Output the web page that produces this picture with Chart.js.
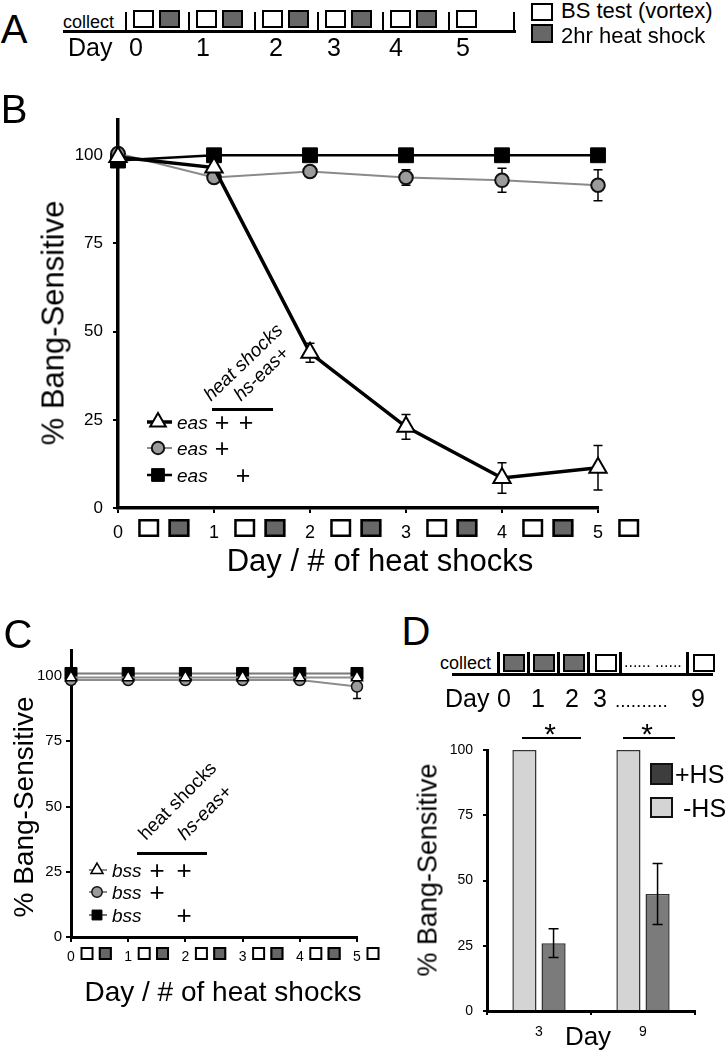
<!DOCTYPE html>
<html><head><meta charset="utf-8">
<script src="https://cdn.jsdelivr.net/npm/chart.js@4.4.1/dist/chart.umd.min.js"></script>
<style>
html,body{margin:0;padding:0;background:#fff;}
#root{position:relative;width:726px;height:1050px;overflow:hidden;font-family:"Liberation Sans",Arial,Helvetica,sans-serif;color:#000;background:#fff;}
canvas{position:absolute;}
</style></head>
<body><div id="root">
<canvas id="cB" width="726" height="540" style="left:0;top:60px;width:726px;height:540px"></canvas>
<canvas id="cC" width="392" height="420" style="left:0;top:630px;width:392px;height:420px"></canvas>
<canvas id="cD" width="346" height="350" style="left:380px;top:700px;width:346px;height:350px"></canvas>
</div>
<script>
// ---------------- data ----------------
const days = [0, 1, 2, 3, 4, 5];
const dayTickLabels = ['0', '1', '2', '3', '4', '5'];
const pctTicks = [0, 25, 50, 75, 100];
const bsTestDays = [0, 1, 2, 3, 4, 5];      // white boxes (BS test)
const heatShockDays = [0, 1, 2, 3, 4];      // gray boxes (2hr heat shock)

// Panel B: eas
const easHsEas = [99.5, 96.5, 44, 23, 8.5, 11.4];
const easHsEasErr = [0, 0, 2.7, 3.5, 4.3, 6.3];
const easHs = [100.5, 93.7, 95.4, 93.7, 92.9, 91.5];
const easHsErr = [0, 0, 1, 2.2, 3.4, 4.4];
const easEas = [98.5, 100, 100, 100, 100, 100];

// Panel C: bss
const bssHsEas = [99.5, 99.5, 99.5, 99.5, 99.5, 99.5];
const bssHs = [98.5, 98.5, 98.5, 98.5, 98.5, 96];
const bssHsErr = [0, 0, 0, 0, 0, 4.6];
const bssEas = [101, 101, 101, 101, 101, 101];

// Panel D
const dCategories = ['3', '9'];
const dMinusHS = [100, 100];
const dPlusHS = [26, 44.8];
const dPlusHSErr = [5.5, 11.7];
const dSigLevel = [104.6, 104.6];

// ---------------- html helpers ----------------
const root = document.getElementById('root');
function T(text, x, y, size, o = {}) {
  const d = document.createElement('div');
  d.textContent = text;
  const s = d.style;
  s.position = 'absolute'; s.whiteSpace = 'nowrap'; s.lineHeight = '1'; s.fontSize = size + 'px';
  if (o.italic) s.fontStyle = 'italic';
  if (o.origin) {
    s.left = x + 'px'; s.top = (y - size) + 'px';
    s.transformOrigin = '0 100%'; s.transform = 'rotate(' + o.rot + 'deg)';
  } else {
    s.left = x + 'px'; s.top = y + 'px';
    s.transform = 'translate(' + (o.left ? '0' : '-50%') + ',-50%)' + (o.rot ? ' rotate(' + o.rot + 'deg)' : '');
  }
  root.appendChild(d); return d;
}
function R(x, y, w, h, fill, bw = 0, bc = '#000') {
  const d = document.createElement('div');
  const s = d.style;
  s.position = 'absolute'; s.left = x + 'px'; s.top = y + 'px'; s.width = w + 'px'; s.height = h + 'px';
  s.background = fill; s.boxSizing = 'border-box';
  if (bw) s.border = bw + 'px solid ' + bc;
  root.appendChild(d); return d;
}

// ---------------- Panel A (schedule) ----------------
T('A', 14, 29, 40);
T('collect', 63, 22, 18, {left: true});
R(63, 30, 453, 2.5, '#000');
const aSeps = [126, 189, 255, 318, 383, 449, 514];
aSeps.forEach(x => R(x - 1.25, 12, 2.5, 20.5, '#000'));
bsTestDays.forEach(d => R(aSeps[d] + 7, 10, 21, 18, '#fff', 2.5));
heatShockDays.forEach(d => R(aSeps[d] + 33, 10, 21, 18, '#676767', 2.5));
T('Day', 68, 47, 25, {left: true});
const aDayX = [136, 203, 276, 334, 396, 463];
dayTickLabels.forEach((t, i) => T(t, aDayX[i], 47, 25));
R(531, 3, 22, 18, '#fff', 2.5);
R(531, 24, 22, 19, '#676767', 2.5);
T('BS test (vortex)', 561, 11, 22, {left: true});
T('2hr heat shock', 561, 36, 22, {left: true});

// ---------------- Panel B texts ----------------
T('B', 14, 109, 40);
T('% Bang-Sensitive', 53, 323, 31, {rot: -90});
T('Day / # of heat shocks', 380, 560, 31);
['eas', 'eas', 'eas'].forEach((t, i) => T(t, 177, [422, 448, 475][i], 19, {left: true, italic: true}));
[[222, 422], [246, 422], [222, 448], [243, 475]].forEach(p => T('+', p[0], p[1], 25));
R(212, 408, 61, 3, '#000');
T('heat shocks', 213, 404, 19, {origin: true, rot: -44, italic: true});
T('hs-eas+', 243, 404, 19, {origin: true, rot: -44, italic: true});

// ---------------- Panel C texts ----------------
T('C', 18, 634, 40);
T('% Bang-Sensitive', 24, 807, 28, {rot: -90});
T('Day / # of heat shocks', 223, 992, 28);
['bss', 'bss', 'bss'].forEach((t, i) => T(t, 112, [870, 892, 915][i], 19, {left: true, italic: true}));
[[157, 870], [184, 870], [157, 892], [184, 915]].forEach(p => T('+', p[0], p[1], 26));
R(137, 852, 70, 3, '#000');
T('heat shocks', 148, 843, 19, {origin: true, rot: -45});
T('hs-eas+', 187, 843, 19, {origin: true, rot: -45, italic: true});

// ---------------- Panel D texts ----------------
T('D', 416, 631, 40);
T('collect', 440, 663, 18, {left: true});
R(452, 673, 261, 3, '#000');
[498, 528, 558, 588, 620, 687].forEach(x => R(x - 1.5, 652, 3, 22, '#000'));
[503, 533, 563].forEach(x => R(x, 654, 22, 18, '#6d6d6d', 2.5));
[595, 693].forEach(x => R(x, 654, 22, 18, '#fff', 2.5));
T('...... ......', 624, 662, 16, {left: true});
T('Day', 445, 698, 25, {left: true});
[['0', 504], ['1', 538], ['2', 572], ['3', 600], ['9', 698]].forEach(p => T(p[0], p[1], 698, 25));
T('..........', 615, 700, 19, {left: true});
T('% Bang-Sensitive', 428, 870, 27, {rot: -90});
T('Day', 588, 1036, 26);
T('*', 550, 734, 30); T('*', 647, 734, 30);
R(650, 763, 23, 22, '#3d3d3d', 2, '#111');
R(650, 797, 23, 21, '#d4d4d4', 2, '#111');
T('+HS', 675, 774, 25, {left: true});
T('-HS', 683, 808, 25, {left: true});

// ---------------- Chart.js ----------------
Chart.defaults.font.family = '"Liberation Sans", Arial, Helvetica, sans-serif';
Chart.defaults.color = '#000';
Chart.defaults.animation = false;

function drawMarker(ctx, style, r, x, y, fill, stroke, bw) {
  ctx.save(); ctx.fillStyle = fill; ctx.strokeStyle = stroke; ctx.lineWidth = bw;
  ctx.beginPath();
  if (style === 'triangle') {
    for (let k = 0; k < 3; k++) {
      const a = k * 2 * Math.PI / 3, px = x + Math.sin(a) * r, py = y - Math.cos(a) * r;
      k ? ctx.lineTo(px, py) : ctx.moveTo(px, py);
    }
    ctx.closePath();
  } else if (style === 'rect') {
    const s = Math.SQRT1_2 * r; ctx.rect(x - s, y - s, 2 * s, 2 * s);
  } else ctx.arc(x, y, r, 0, 2 * Math.PI);
  ctx.fill(); if (bw > 0) ctx.stroke(); ctx.restore();
}

function drawErrors(chart) {
  const ctx = chart.ctx, ys = chart.scales.y;
  chart.data.datasets.forEach((ds, di) => {
    if (!ds.errors) return;
    const meta = chart.getDatasetMeta(di);
    ctx.save(); ctx.strokeStyle = '#000'; ctx.lineWidth = ds.errWidth || 1.5;
    meta.data.forEach((el, i) => {
      const e = ds.errors[i]; if (!e) return;
      const v = ds.values[i];
      const x = el.x, y1 = ys.getPixelForValue(v + e), y2 = ys.getPixelForValue(v - e), c = ds.errCap || 4;
      ctx.beginPath();
      ctx.moveTo(x, y1); ctx.lineTo(x, y2);
      ctx.moveTo(x - c, y1); ctx.lineTo(x + c, y1);
      ctx.moveTo(x - c, y2); ctx.lineTo(x + c, y2);
      ctx.stroke();
    });
    ctx.restore();
  });
}
const errPlugin = {
  id: 'errbars',
  beforeDatasetsDraw(chart) { if (chart.config.type === 'line') drawErrors(chart); },
  afterDatasetsDraw(chart) { if (chart.config.type === 'bar') drawErrors(chart); }
};
const schedPlugin = {
  id: 'sched',
  afterDraw(chart, args, o) {
    if (!o || !o.w) return;
    const ctx = chart.ctx, xs = chart.scales.x, top = chart.chartArea.bottom + o.dy;
    const box = (d, off, fill) => {
      const cx = xs.getPixelForValue(d + off);
      ctx.fillStyle = fill; ctx.fillRect(cx - o.w / 2, top, o.w, o.h);
      ctx.strokeStyle = '#000'; ctx.lineWidth = o.lw;
      ctx.strokeRect(cx - o.w / 2 + o.lw / 2, top + o.lw / 2, o.w - o.lw, o.h - o.lw);
    };
    bsTestDays.forEach(d => box(d, o.offW, '#fff'));
    heatShockDays.forEach(d => box(d, o.offG, '#676767'));
  }
};
const legendPlugin = {
  id: 'sideLegend',
  afterDraw(chart, args, o) {
    if (!o || !o.rows) return;
    const ctx = chart.ctx;
    o.rows.forEach(r => {
      const ds = chart.data.datasets[r.i];
      ctx.save(); ctx.strokeStyle = ds.borderColor; ctx.lineWidth = ds.borderWidth;
      ctx.beginPath(); ctx.moveTo(o.x1, r.y); ctx.lineTo(o.x2, r.y); ctx.stroke(); ctx.restore();
      drawMarker(ctx, ds.pointStyle, r.r, o.mx, r.y, ds.pointBackgroundColor, ds.pointBorderColor, ds.pointBorderWidth);
    });
  }
};
const sigPlugin = {
  id: 'sig',
  afterDraw(chart, args, o) {
    if (!o || !o.levels) return;
    const ctx = chart.ctx, xs = chart.scales.x, ys = chart.scales.y;
    ctx.save(); ctx.strokeStyle = '#000'; ctx.lineWidth = 2;
    o.levels.forEach((lv, i) => {
      const cx = xs.getPixelForValue(i), ly = ys.getPixelForValue(lv);
      ctx.beginPath(); ctx.moveTo(cx + o.from[i], ly); ctx.lineTo(cx + o.to[i], ly); ctx.stroke();
    });
    ctx.restore();
  }
};

function pts(vals) { return days.map((d, i) => ({x: d, y: vals[i]})); }
function axisBase(tl, lw, bw, size, pad) {
  return {
    ticks: {font: {size: size}, padding: pad, maxRotation: 0, autoSkip: false},
    grid: {display: true, drawOnChartArea: false, drawTicks: true, tickLength: tl, color: '#000', lineWidth: lw},
    border: {display: true, color: '#000', width: bw}
  };
}
function lineChart(id, sets, cfg) {
  const xo = axisBase(5, 2, cfg.bw, cfg.xSize, cfg.xPad);
  const yo = axisBase(5, 2, cfg.bw, cfg.ySize, cfg.yPad);
  return new Chart(document.getElementById(id), {
    type: 'line',
    data: {datasets: sets},
    options: {
      responsive: false, animation: false,
      layout: {padding: cfg.padding},
      elements: {line: {tension: 0}},
      plugins: {legend: {display: false}, tooltip: {enabled: false},
        sched: cfg.sched, sideLegend: cfg.legend},
      scales: {
        x: Object.assign(xo, {type: 'linear', min: 0, max: 5,
          afterBuildTicks: s => { s.ticks = days.map(v => ({value: v})); },
          afterFit: s => { s.height = cfg.xH; s.paddingLeft = 0; s.paddingRight = 0; }}),
        y: Object.assign(yo, {type: 'linear', min: 0, max: 110,
          afterBuildTicks: s => { s.ticks = pctTicks.map(v => ({value: v})); },
          afterFit: s => { s.width = cfg.yW; s.paddingTop = 0; s.paddingBottom = 0; }})
      }
    },
    plugins: [errPlugin, schedPlugin, legendPlugin]
  });
}
const xTickCb = v => dayTickLabels[days.indexOf(v)];

// Panel B
const chartB = lineChart('cB', [
  {label: 'eas heat shocks + hs-eas+', data: pts(easHsEas), values: easHsEas, errors: easHsEasErr, errCap: 4.5,
   borderColor: '#000', borderWidth: 3.5, pointStyle: 'triangle', pointRadius: 10,
   pointBackgroundColor: '#fff', pointBorderColor: '#000', pointBorderWidth: 2, clip: false},
  {label: 'eas heat shocks', data: pts(easHs), values: easHs, errors: easHsErr, errCap: 4.5,
   borderColor: '#8a8a8a', borderWidth: 2, pointStyle: 'circle', pointRadius: 6.8,
   pointBackgroundColor: '#9b9b9b', pointBorderColor: '#111', pointBorderWidth: 2, clip: false},
  {label: 'eas hs-eas+', data: pts(easEas), values: easEas,
   borderColor: '#000', borderWidth: 2.5, pointStyle: 'rect', pointRadius: 10.5,
   pointBackgroundColor: '#000', pointBorderColor: '#000', pointBorderWidth: 1, clip: false}
], {padding: {left: 0, right: 128, top: 60, bottom: 0}, xH: 92, yW: 118, bw: 3.5,
    xSize: 18, xPad: 9, ySize: 17, yPad: 10,
    sched: {w: 21, h: 18, dy: 11, offW: 0.32, offG: 0.635, lw: 2.5},
    legend: {mx: 158, x1: 147, x2: 172, rows: [{i: 0, y: 362, r: 9}, {i: 1, y: 388, r: 6.2}, {i: 2, y: 415, r: 9}]}});
chartB.options.scales.x.ticks.callback = xTickCb; chartB.update();

// Panel C
const chartC = lineChart('cC', [
  {label: 'bss heat shocks + hs-eas+', data: pts(bssHsEas), values: bssHsEas,
   borderColor: '#8c8c8c', borderWidth: 2, pointStyle: 'triangle', pointRadius: 6.5,
   pointBackgroundColor: '#fff', pointBorderColor: '#000', pointBorderWidth: 1.5, clip: false},
  {label: 'bss hs-eas+', data: pts(bssEas), values: bssEas,
   borderColor: '#777', borderWidth: 2, pointStyle: 'rect', pointRadius: 8.5,
   pointBackgroundColor: '#000', pointBorderColor: '#000', pointBorderWidth: 1, clip: false},
  {label: 'bss heat shocks', data: pts(bssHs), values: bssHs, errors: bssHsErr, errCap: 4,
   borderColor: '#8c8c8c', borderWidth: 2, pointStyle: 'circle', pointRadius: 5.5,
   pointBackgroundColor: '#9b9b9b', pointBorderColor: '#111', pointBorderWidth: 1.5, clip: false}
], {padding: {left: 0, right: 35, top: 20, bottom: 0}, xH: 113, yW: 71, bw: 3,
    xSize: 14, xPad: 7, ySize: 15, yPad: 4,
    sched: {w: 13, h: 13, dy: 10, offW: 0.28, offG: 0.6, lw: 2},
    legend: {mx: 97, x1: 89, x2: 107, rows: [{i: 0, y: 240, r: 7}, {i: 2, y: 262, r: 5.2}, {i: 1, y: 285, r: 7}]}});
chartC.options.scales.x.ticks.callback = xTickCb; chartC.update();

// Panel D
const dxo = axisBase(4, 2, 3, 14, 9);
const dyo = axisBase(4, 2, 3, 14, 10);
const chartD = new Chart(document.getElementById('cD'), {
  type: 'bar',
  data: {labels: dCategories, datasets: [
    {label: '-HS', data: dMinusHS, values: dMinusHS, backgroundColor: '#d4d4d4', borderColor: '#333', borderWidth: 1.5,
     categoryPercentage: 0.56, barPercentage: 0.83},
    {label: '+HS', data: dPlusHS, values: dPlusHS, errors: dPlusHSErr, errCap: 5, backgroundColor: '#7b7b7b', borderColor: '#333', borderWidth: 1.5,
     categoryPercentage: 0.56, barPercentage: 0.83}
  ]},
  options: {
    responsive: false, animation: false,
    layout: {padding: {left: 0, right: 31, top: 50, bottom: 0}},
    plugins: {legend: {display: false}, tooltip: {enabled: false},
      sig: {levels: dSigLevel, from: [-17, -20], to: [42, 32]}},
    scales: {
      x: Object.assign(dxo, {type: 'category', offset: true,
        afterFit: s => { s.height = 39; s.paddingLeft = 0; s.paddingRight = 0; }}),
      y: Object.assign(dyo, {type: 'linear', min: 0, max: 100,
        afterBuildTicks: s => { s.ticks = pctTicks.map(v => ({value: v})); },
        afterFit: s => { s.width = 107; s.paddingTop = 0; s.paddingBottom = 0; }})
    }
  },
  plugins: [errPlugin, sigPlugin]
});
chartD.options.scales.x.grid.offset = true; chartD.update();
</script>
</body></html>
